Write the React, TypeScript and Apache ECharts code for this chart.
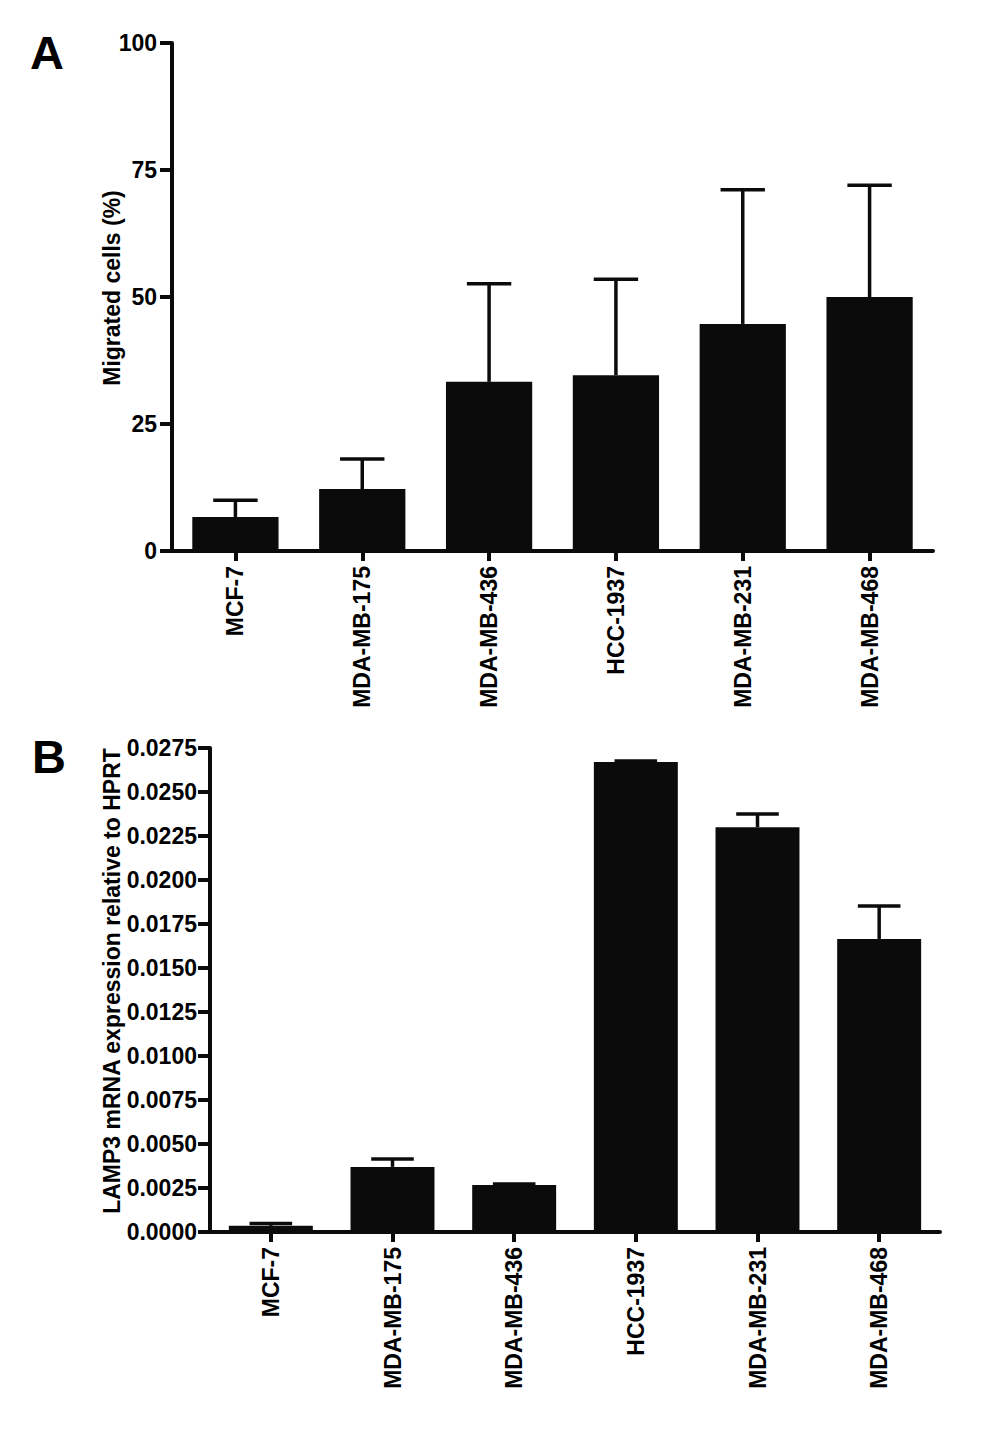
import React, { useEffect, useRef } from "react";
import * as echarts from "echarts";

const categories = ["MCF-7", "MDA-MB-175", "MDA-MB-436", "HCC-1937", "MDA-MB-231", "MDA-MB-468"];

// Panel A: migrated cells (%)
const migratedMean = [6.7, 12.2, 33.3, 34.6, 44.7, 50.0];
const migratedSD = [3.3, 5.9, 19.3, 18.9, 26.4, 22.0];

// Panel B: LAMP3 mRNA expression relative to HPRT
const lampMean = [0.00035, 0.0037, 0.00267, 0.0267, 0.023, 0.01665];
const lampSD = [0.00013, 0.00045, 0.00006, 0.00006, 0.00075, 0.00187];

const FONT = "Liberation Sans, Arial, Helvetica, sans-serif";
const INK = "#0b0b0b";

function errorRender(params: any, api: any) {
  const x = api.value(0);
  const m = api.value(1);
  const sd = api.value(2);
  const p0 = api.coord([x, m]);
  const p1 = api.coord([x, m + sd]);
  const half = api.size([1, 0])[0] * 0.175;
  const style = { stroke: INK, lineWidth: 3.5 };
  return {
    type: "group",
    children: [
      { type: "line", shape: { x1: p0[0], y1: p0[1], x2: p1[0], y2: p1[1] }, style },
      { type: "line", shape: { x1: p1[0] - half, y1: p1[1], x2: p1[0] + half, y2: p1[1] }, style },
    ],
  };
}

export default function App() {
  const ref = useRef<HTMLDivElement>(null);
  useEffect(() => {
    document.body.style.margin = "0";
    const chart = echarts.init(ref.current!, null, { renderer: "svg" });
    const axisLine = { show: true, lineStyle: { color: INK, width: 4 } };
    const tickStyle = { color: INK, width: 4 };
    const labelStyle = { color: "#000", fontFamily: FONT, fontWeight: "bold" as const, fontSize: 23 };
    const xAxisCommon = {
      type: "category" as const,
      data: categories,
      axisLine,
      axisTick: { show: true, alignWithLabel: true, length: 10, lineStyle: tickStyle },
      axisLabel: { ...labelStyle, rotate: 90, margin: 15, interval: 0 },
      splitLine: { show: false },
    };
    chart.setOption({
      animation: false,
      backgroundColor: "#ffffff",
      textStyle: { fontFamily: FONT },
      grid: [
        { left: 172, right: 71, top: 43, bottom: 883 },
        { left: 210, right: 64, top: 748, bottom: 202 },
      ],
      xAxis: [
        { ...xAxisCommon, gridIndex: 0 },
        { ...xAxisCommon, gridIndex: 1 },
      ],
      yAxis: [
        {
          type: "value",
          gridIndex: 0,
          min: 0,
          max: 100,
          interval: 25,
          axisLine,
          axisTick: { show: true, length: 12, lineStyle: tickStyle },
          axisLabel: { ...labelStyle, margin: 15 },
          splitLine: { show: false },
          name: "Migrated cells (%)",
          nameLocation: "middle",
          nameRotate: 90,
          nameGap: 49,
          nameMoveOverlap: false,
          nameTextStyle: { ...labelStyle, padding: [0, 0, 0, 18] },
        },
        {
          type: "value",
          gridIndex: 1,
          min: 0,
          max: 0.0275,
          interval: 0.0025,
          axisLine,
          axisTick: { show: true, length: 12, lineStyle: tickStyle },
          axisLabel: { ...labelStyle, margin: 13, formatter: (v: number) => v.toFixed(4) },
          splitLine: { show: false },
          name: "LAMP3 mRNA expression relative to HPRT",
          nameLocation: "middle",
          nameRotate: 90,
          nameGap: 87,
          nameMoveOverlap: false,
          nameTextStyle: { ...labelStyle, padding: [0, 0, 0, 18] },
        },
      ],
      series: [
        {
          type: "bar",
          xAxisIndex: 0,
          yAxisIndex: 0,
          data: migratedMean,
          barWidth: "68%",
          itemStyle: { color: INK },
          z: 2,
        },
        {
          type: "custom",
          xAxisIndex: 0,
          yAxisIndex: 0,
          renderItem: errorRender,
          encode: { x: 0, y: 1 },
          data: categories.map((_, i) => [i, migratedMean[i], migratedSD[i]]),
          z: 3,
        },
        {
          type: "bar",
          xAxisIndex: 1,
          yAxisIndex: 1,
          data: lampMean,
          barWidth: "69%",
          itemStyle: { color: INK },
          z: 2,
        },
        {
          type: "custom",
          xAxisIndex: 1,
          yAxisIndex: 1,
          renderItem: errorRender,
          encode: { x: 0, y: 1 },
          data: categories.map((_, i) => [i, lampMean[i], lampSD[i]]),
          z: 3,
        },
      ],
      graphic: [
        { type: "text", left: 30, top: 29, style: { text: "A", fontFamily: FONT, fontWeight: "bold", fontSize: 47, fill: "#000" } },
        { type: "text", left: 32, top: 733, style: { text: "B", fontFamily: FONT, fontWeight: "bold", fontSize: 47, fill: "#000" } },
      ],
    });
    return () => chart.dispose();
  }, []);
  return <div ref={ref} style={{ width: 1004, height: 1434 }} />;
}
